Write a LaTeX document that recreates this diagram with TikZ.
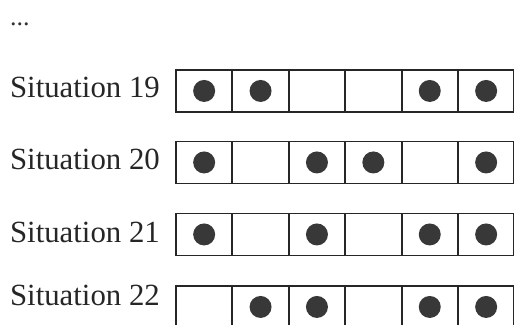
\documentclass[tikz,border=0pt]{standalone}
\usepackage{fontspec}
\setmainfont{Liberation Serif}
\begin{document}
\begin{tikzpicture}[x=1pt,y=-1pt,
  cellbox/.style={draw=black!85,line width=1.9pt,minimum width=56.4pt,minimum height=42pt,inner sep=0pt,anchor=north west},
  ball/.style={circle,fill=black!78,minimum size=22pt,inner sep=0pt},
  situ/.style={anchor=base east,inner sep=0pt,font=\fontsize{30.8}{30.8}\selectfont,text=black!85}]
\useasboundingbox (0,0) rectangle (514,324);
\clip (0,0) rectangle (514,324);
\node[anchor=base west,inner sep=0pt,font=\fontsize{26}{26}\selectfont,text=black!80] (dots) at (10,25) {...};
\foreach \n/\top/\base/\pat in {19/69/97/{1,1,0,0,1,1},20/140.5/169/{1,0,1,1,0,1},21/212.5/242/{1,0,1,0,1,1},22/285/305/{0,1,1,0,1,1}}{
  \node[situ] (lab\n) at (160,\base) {Situation \n};
  \foreach \v [count=\i] in \pat {
    \node[cellbox] (c\n-\i) at ({175+(\i-1)*56.4},\top) {};
    \ifnum\v=1 \node[ball] (b\n-\i) at (c\n-\i.center) {};\fi
  }
}
\end{tikzpicture}
\end{document}
